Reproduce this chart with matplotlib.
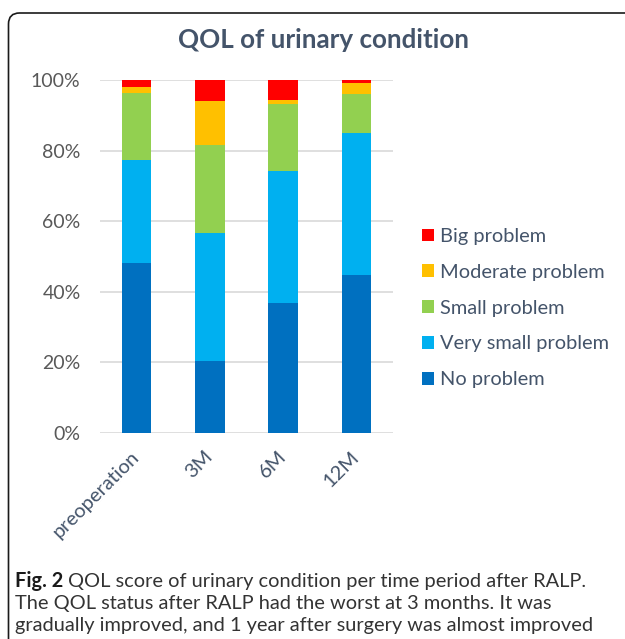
import matplotlib.pyplot as plt
from matplotlib.patches import FancyBboxPatch
import numpy as np

# data (percent of patients)
periods = ['preoperation', '3M', '6M', '12M']
no_problem = [48.3, 20.3, 36.9, 44.9]
very_small = [29.0, 36.4, 37.3, 40.0]
small = [18.9, 24.9, 19.1, 11.1]
moderate = [1.7, 12.5, 1.1, 3.1]
big = [2.1, 5.9, 5.6, 0.9]

series = [('No problem', no_problem, '#0070C0'),
          ('Very small problem', very_small, '#00B0F0'),
          ('Small problem', small, '#92D050'),
          ('Moderate problem', moderate, '#FFC000'),
          ('Big problem', big, '#FF0000')]

plt.rcParams['font.family'] = ['Lato', 'DejaVu Sans']

W, H = 625, 639
fig = plt.figure(figsize=(W / 100, H / 100), dpi=100)

# background frame (pixel coords)
bg = fig.add_axes([0, 0, 1, 1], zorder=-1)
bg.set_xlim(0, W)
bg.set_ylim(H, 0)
bg.axis('off')
bg.add_patch(FancyBboxPatch((8.5, 13.0), 700, 700,
                            boxstyle='round,pad=0,rounding_size=11',
                            fc='white', ec='#1a1a1a', lw=1.2))

# chart axes
ax = fig.add_axes([100 / W, 1 - 433 / H, 293 / W, 353 / H])
x = np.arange(len(periods))
bottom = np.zeros(len(periods))
handles = []
for name, vals, col in series:
    b = ax.bar(x, vals, 0.4, bottom=bottom, color=col, label=name, zorder=2)
    bottom += np.array(vals)
    handles.append(b)

ax.set_ylim(0, 100)
ax.set_xlim(-0.5, len(periods) - 0.5)
ax.set_yticks(np.arange(0, 101, 20))
ax.set_yticklabels(['%d%%' % v for v in range(0, 101, 20)])
ax.yaxis.grid(True, color='#D9D9D9', lw=1.2, zorder=0)
for s in ax.spines.values():
    s.set_visible(False)
ax.tick_params(axis='both', length=0)
ax.tick_params(axis='y', labelsize=14, labelcolor='#595959', pad=14)

ax.set_xticks(x)
ax.set_xticklabels(periods, rotation=45, ha='right', va='center',
                   rotation_mode='anchor', fontsize=14.5, color='#44546A')
ax.tick_params(axis='x', pad=15)

fig.text(323 / W, 1 - 40 / H, 'QOL of urinary condition', ha='center', va='center',
         fontsize=18.7, fontweight='bold', color='#44546A')

leg = fig.legend(handles[::-1], [s[0] for s in series][::-1],
                 loc='upper left', bbox_to_anchor=(412 / W, 1 - 218 / H),
                 frameon=False, fontsize=14.4, labelspacing=0.94, borderpad=0,
                 handlelength=0.6, handleheight=0.6, handletextpad=0.3)
for t in leg.get_texts():
    t.set_color('#44546A')

# caption
cap_col = '#333333'
cap_fs = 14.4
fig.canvas.draw()
r = fig.canvas.get_renderer()
t1 = fig.text(15 / W, 1 - 581 / H, 'Fig. 2', ha='left', va='center',
              fontsize=cap_fs, fontweight='bold', color='#1a1a1a')
bb = t1.get_window_extent(renderer=r)
fig.text((bb.x1 + 5) / W, 1 - 581 / H,
         'QOL score of urinary condition per time period after RALP.',
         ha='left', va='center', fontsize=cap_fs, color=cap_col)
fig.text(15 / W, 1 - 604 / H,
         'The QOL status after RALP had the worst at 3 months. It was',
         ha='left', va='center', fontsize=cap_fs, color=cap_col)
fig.text(15 / W, 1 - 626 / H,
         'gradually improved, and 1 year after surgery was almost improved',
         ha='left', va='center', fontsize=cap_fs, color=cap_col)

fig.savefig('out.png', dpi=100)
